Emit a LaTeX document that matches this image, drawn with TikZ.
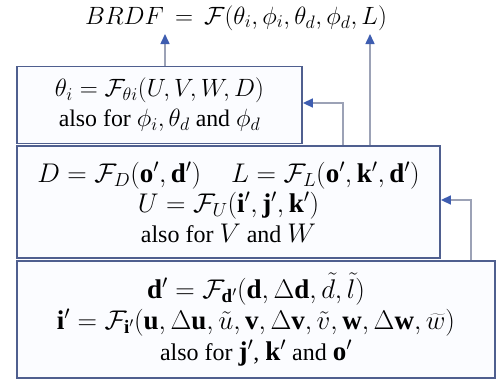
\RequirePackage{fix-cm}
\documentclass[tikz,border=0pt]{standalone}
\usepackage{fontspec}
\setmainfont{Liberation Serif}
\usetikzlibrary{arrows.meta}
\DeclareMathSizes{24}{27}{19}{14}
\DeclareMathSizes{23.8}{25}{18}{13}
\definecolor{boxline}{HTML}{4F5F8F}
\definecolor{conline}{HTML}{9CA2B6}
\definecolor{tipblue}{HTML}{3E5DB0}
\definecolor{boxfill}{HTML}{FBFCFF}
\tikzset{
  eqbox/.style={draw=boxline, line width=1.8pt, fill=boxfill, align=center, inner sep=0pt,
    font=\fontsize{24}{30}\selectfont},
  smallbox/.style={eqbox, font=\fontsize{23.8}{30}\selectfont},
  bigbox/.style={eqbox, font=\fontsize{24}{31}\selectfont},
  conn/.style={draw=conline, line width=1.5pt,
    -{Triangle[length=10pt,width=9pt,color=tipblue]}},
}
\begin{document}
\begin{tikzpicture}[x=1pt,y=-1pt]
\useasboundingbox (0,0) rectangle (497,380);
\node[font=\fontsize{23.8}{30}\selectfont, inner sep=0pt] (brdf) at (236,18)
  {$BRDF \,=\, \mathcal{F}(\theta_i,\phi_i,\theta_d,\phi_d,L)$};
\node[smallbox, minimum width=285pt, minimum height=77pt] (b1) at (159.5,105)
  {$\theta_i = \mathcal{F}_{\theta i}(U,V,W,D)$\\ also for $\phi_i,\theta_d$ and $\phi_d$};
\node[eqbox, minimum width=423pt, minimum height=112pt] (b2) at (228.5,202)
  {$D = \mathcal{F}_D(\mathbf{o}',\mathbf{d}')\quad\ L = \mathcal{F}_L(\mathbf{o}',\mathbf{k}',\mathbf{d}')$\\
   $U = \mathcal{F}_U(\mathbf{i}',\mathbf{j}',\mathbf{k}')$\\ also for $V$ and $W$};
\node[bigbox, minimum width=478pt, minimum height=117pt] (b3) at (256,319.5)
  {$\mathbf{d}' = \mathcal{F}_{\mathbf{d}'}\big(\mathbf{d},\Delta\mathbf{d},\tilde{d},\tilde{l}\big)$\\
   $\mathbf{i}' = \mathcal{F}_{\mathbf{i}'}(\mathbf{u},\Delta\mathbf{u},\tilde{u},\mathbf{v},\Delta\mathbf{v},\tilde{v},\mathbf{w},\Delta\mathbf{w},\widetilde{w})$\\
   also for $\mathbf{j}'$, $\mathbf{k}'$ and $\mathbf{o}'$};
\coordinate (t1) at (165,34);
\coordinate (t2) at (370,34);
\draw[conn] (b1.north -| t1) -- (t1);
\draw[conn] (b2.north -| t2) -- (t2);
\coordinate (c3) at (343,103);
\draw[conn] (b2.north -| c3) -- (c3) -- (c3 -| b1.east);
\coordinate (c4) at (471,200);
\draw[conn] (b3.north -| c4) -- (c4) -- (c4 -| b2.east);
\end{tikzpicture}
\end{document}
